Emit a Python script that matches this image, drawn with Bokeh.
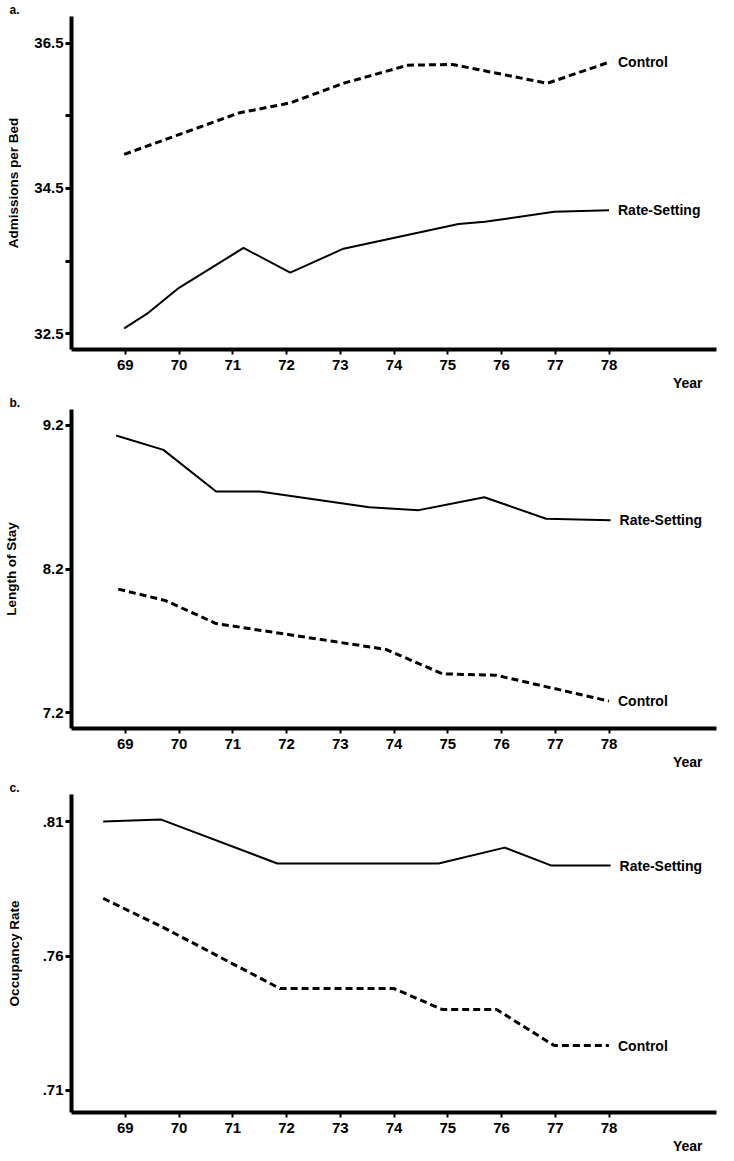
from bokeh.plotting import figure
from bokeh.layouts import column
from bokeh.models import Range1d, FixedTicker, Title
from bokeh.embed import file_html
from bokeh.resources import INLINE
from bokeh.core.properties import value

FONT = "Liberation Sans"

# x axis (years, 1969-1978)
year_ticks = [69, 70, 71, 72, 73, 74, 75, 76, 77, 78]
year_labels = ["69", "70", "71", "72", "73", "74", "75", "76", "77", "78"]

# ---- panel a: Admissions per Bed ----
a_ctrl_x = [68.98, 71.11, 72.07, 73.06, 74.26, 75.09, 76.85, 78.0]
a_ctrl_y = [34.97, 35.54, 35.68, 35.95, 36.20, 36.21, 35.95, 36.24]
a_rate_x = [68.98, 69.4, 70.0, 71.2, 72.07, 73.06, 75.2, 75.69, 76.06, 76.98, 78.0]
a_rate_y = [32.57, 32.77, 33.13, 33.68, 33.34, 33.67, 34.01, 34.04, 34.08, 34.18, 34.20]
a_ticks = [32.5, 33.5, 34.5, 35.5, 36.5]
a_tick_labels = ["32.5", "", "34.5", "", "36.5"]

# ---- panel b: Length of Stay ----
b_rate_x = [68.83, 69.71, 70.69, 71.5, 73.54, 74.46, 75.68, 76.83, 78.03]
b_rate_y = [9.13, 9.03, 8.74, 8.74, 8.63, 8.61, 8.70, 8.55, 8.54]
b_ctrl_x = [68.87, 69.75, 70.69, 73.85, 74.9, 75.9, 78.0]
b_ctrl_y = [8.06, 7.98, 7.82, 7.64, 7.47, 7.46, 7.28]
b_ticks = [7.2, 8.2, 9.2]
b_tick_labels = ["7.2", "8.2", "9.2"]

# ---- panel c: Occupancy Rate ----
c_rate_x = [68.59, 69.67, 71.83, 74.83, 76.06, 76.93, 78.03]
c_rate_y = [0.810, 0.8107, 0.7944, 0.7944, 0.8003, 0.7936, 0.7936]
c_ctrl_x = [68.59, 69.67, 71.88, 74.0, 74.9, 75.91, 76.98, 78.0]
c_ctrl_y = [0.7814, 0.771, 0.7479, 0.7479, 0.7401, 0.7401, 0.7267, 0.7267]
c_ticks = [0.71, 0.76, 0.81]
c_tick_labels = [".71", ".76", ".81"]


def panel(letter, ylabel, yr, ticks, tick_labels, rate, ctrl,
          height, top, bottom, label_standoff):
    p = figure(width=726, height=height, x_range=Range1d(68, 80),
               y_range=Range1d(*yr), output_backend="svg",
               toolbar_location=None, min_border_left=64,
               min_border_right=10, min_border_top=top,
               min_border_bottom=bottom)
    p.outline_line_color = None
    p.xgrid.visible = False
    p.ygrid.visible = False

    # x axis
    xa = p.xaxis[0]
    xa.ticker = FixedTicker(ticks=year_ticks)
    xa.major_label_overrides = {t: s for t, s in zip(year_ticks, year_labels)}
    xa.axis_line_width = 4
    xa.major_tick_line_width = 2
    xa.major_tick_out = 5
    xa.major_tick_in = 0
    xa.minor_tick_line_color = None
    xa.major_label_standoff = 5
    xa.major_label_text_font = FONT
    xa.major_label_text_font_style = "bold"
    xa.major_label_text_font_size = "15px"
    xa.major_label_text_color = "black"

    # y axis
    ya = p.yaxis[0]
    ya.ticker = FixedTicker(ticks=ticks)
    ya.major_label_overrides = {t: s for t, s in zip(ticks, tick_labels)}
    ya.axis_line_width = 4
    ya.major_tick_line_width = 3
    ya.major_tick_out = 6
    ya.major_tick_in = 0
    ya.minor_tick_line_color = None
    ya.major_label_standoff = 2
    ya.major_label_text_font = FONT
    ya.major_label_text_font_style = "bold"
    ya.major_label_text_font_size = "15px"
    ya.major_label_text_color = "black"
    ya.axis_label = ylabel
    ya.axis_label_text_font = FONT
    ya.axis_label_text_font_style = "bold"
    ya.axis_label_text_font_size = "13.5px"
    ya.axis_label_text_color = "black"
    ya.axis_label_standoff = label_standoff

    rx, ry = rate
    cx, cy = ctrl
    p.line(rx, ry, line_color="black", line_width=2)
    p.line(cx, cy, line_color="black", line_width=3, line_dash="7 4")

    for xs, ys, name in ((rx, ry, "Rate-Setting"), (cx, cy, "Control")):
        p.text(x=[xs[-1]], y=[ys[-1]], text=[name], x_offset=9,
               text_baseline="middle", text_align="left",
               text_font=value(FONT), text_font_style="bold",
               text_font_size="14px", text_color="black")

    p.add_layout(Title(text=letter, align="left", offset=-62, standoff=0,
                       text_font=FONT, text_font_style="bold",
                       text_font_size="12px", text_color="black"), "above")
    p.add_layout(Title(text="Year", align="right", offset=14, standoff=1,
                       text_font=FONT, text_font_style="bold",
                       text_font_size="14px", text_color="black"), "below")
    return p


pa = panel("a.", "Admissions per Bed", (32.28, 36.871), a_ticks, a_tick_labels,
           (a_rate_x, a_rate_y), (a_ctrl_x, a_ctrl_y),
           393, 15, 44, 10)
pb = panel("b.", "Length of Stay", (7.089, 9.311), b_ticks, b_tick_labels,
           (b_rate_x, b_rate_y), (b_ctrl_x, b_ctrl_y),
           384, 14, 49, 21)
pc = panel("c.", "Occupancy Rate", (0.70182, 0.82004), c_ticks, c_tick_labels,
           (c_rate_x, c_rate_y), (c_ctrl_x, c_ctrl_y),
           380, 17, 45, 18)

layout = column(pa, pb, pc, spacing=0)
open("out.html", "w").write(file_html(layout, INLINE))
